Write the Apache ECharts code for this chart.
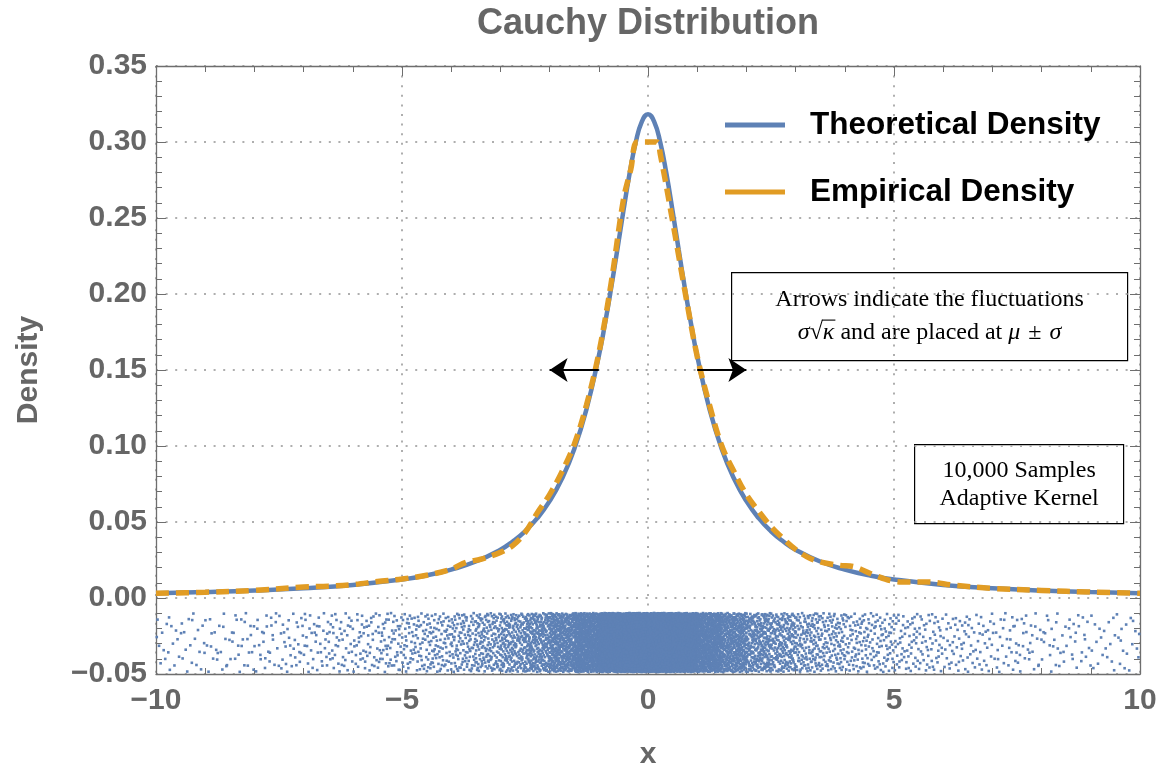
<!DOCTYPE html>
<html>
<head>
<meta charset="utf-8">
<script src="https://cdn.jsdelivr.net/npm/echarts@6/dist/echarts.min.js"></script>
<style>
html,body{margin:0;padding:0;background:#fff;}
#chart{width:1160px;height:773px;}
</style>
</head>
<body>
<div id="chart"></div>
<script>
// ---------- data ----------
const theoryX = [-10,-9,-8,-7,-6,-5,-4.5,-4,-3.5,-3,-2.75,-2.5,-2.25,-2,-1.75,-1.5,-1.25,-1,-0.875,-0.75,-0.625,-0.5,-0.375,-0.25,-0.125,0,
                 0.125,0.25,0.375,0.5,0.625,0.75,0.875,1,1.25,1.5,1.75,2,2.25,2.5,2.75,3,3.5,4,4.5,5,6,7,8,9,10];
const theoryY = [0.0032,0.0039,0.0049,0.0064,0.0086,0.0122,0.0149,0.0187,0.0240,0.0318,0.0372,0.0439,0.0525,0.0637,0.0784,0.0979,0.1242,0.1592,0.1803,0.2037,0.2289,0.2546,0.2791,0.2996,0.3134,0.3183,
                 0.3134,0.2996,0.2791,0.2546,0.2289,0.2037,0.1803,0.1592,0.1242,0.0979,0.0784,0.0637,0.0525,0.0439,0.0372,0.0318,0.0240,0.0187,0.0149,0.0122,0.0086,0.0064,0.0049,0.0039,0.0032];

const empiricalX = [-10,-9,-8,-7,-6.5,-6,-5.5,-5,-4.5,-4,-3.7,-3.4,-3,-2.75,-2.5,-2.25,-2,-1.75,-1.5,-1.25,
                    -1,-0.75,-0.5,-0.35,-0.22,0,0.18,0.25,0.5,0.75,1,1.25,1.5,1.75,2,2.25,2.5,2.75,3,3.3,
                    3.6,3.9,4.2,4.6,5,5.3,5.7,6.2,7,8,9,10];
const empiricalY = [0.0031,0.0038,0.0050,0.0072,0.0078,0.0088,0.0108,0.0125,0.0150,0.0190,0.0235,0.0255,0.0300,0.0345,0.0430,0.0560,0.0680,0.0830,0.1010,0.1270,
                    0.1610,0.2070,0.2620,0.2820,0.3000,0.3000,0.3000,0.2920,0.2480,0.2020,0.1590,0.1270,0.1000,0.0830,0.0680,0.0570,0.0470,0.0390,0.0320,0.0260,
                    0.0230,0.0215,0.0205,0.0150,0.0110,0.0105,0.0105,0.0085,0.0063,0.0050,0.0039,0.0031];

// sample counts per 0.5-wide bin, from x = -10 to x = 10 (estimated from the rug density)
const rugBinStart = -10;
const rugBinWidth = 0.5;
const rugCounts = [17,19,20,24,26,30,35,41,46,57,67,85,105,140,186,266,395,630,1020,1480,
                   1470,1030,625,400,262,190,136,108,82,70,55,48,39,35,29,27,22,21,18,17];
const rugBand = [-0.0487, -0.0099];   // vertical jitter band of the rug

// fluctuation arrows: from mu +/- sigma, length sigma*sqrt(kappa)
const arrowStartX = [-1, 1];
const arrowEndX = [-2, 2];
const arrowLevel = 0.15;

const xMin = -10, xMax = 10, xStep = 5;
const yMin = -0.05, yMax = 0.35, yStep = 0.05;

// ---------- build series data ----------
const zip = (xs, ys) => xs.map((x, i) => [x, ys[i]]);
function halton(i, base) {
  let f = 1, r = 0;
  while (i > 0) { f /= base; r += f * (i % base); i = Math.floor(i / base); }
  return r;
}
const rugPoints = [];
rugCounts.forEach((n, b) => {
  const a = rugBinStart + b * rugBinWidth;
  for (let k = 1; k <= n; k++) {
    // deterministic low-discrepancy placement inside the bin (jitter stand-in)
    const idx = k + b * 157;
    rugPoints.push([a + rugBinWidth * halton(idx, 2), rugBand[0] + (rugBand[1] - rugBand[0]) * halton(idx, 3)]);
  }
});

const BLUE = '#5E81B5', ORANGE = '#E19C24', GRAY = '#666666', FRAME = '#6e6e6e';
const SANS = '"Liberation Sans", Arial, Helvetica, sans-serif';
const SERIF = '"Liberation Serif", "Times New Roman", serif';
const minus = s => String(s).replace('-', '\u2212');

// measure the math line so the square-root bar can sit over kappa
const NOTE_FS = 24;
const SP = '\u2004';
const mctx = document.createElement('canvas').getContext('2d');
function tw(t, italic) { mctx.font = (italic ? 'italic ' : '') + NOTE_FS + 'px ' + SERIF; return mctx.measureText(t).width; }
const mathParts = [['σ', 1], ['√', 0], ['κ', 1], [' and are placed at ', 0], ['μ', 1], [SP + '±' + SP, 0], ['σ', 1]];
const mathW = mathParts.reduce((s, p) => s + tw(p[0], p[1]), 0);
const box1W = 396, box1H = 88;
const kappaX0 = box1W / 2 - mathW / 2 + tw('σ', 1) + tw('√', 0);
const kappaX1 = kappaX0 + tw('κ', 1);

const tickLabel = {fontFamily: SANS, fontWeight: 'bold', fontSize: 30, color: GRAY};
const dotted = {show: true, lineStyle: {color: '#aeaeae', width: 2, type: [2, 7.6]}};
const frameLine = {show: true, onZero: false, lineStyle: {color: FRAME, width: 1.3}};
const majorTick = {show: true, inside: true, length: 10, lineStyle: {color: FRAME, width: 1}};
const minorTick = {show: true, splitNumber: 5, length: 6, lineStyle: {color: FRAME, width: 1}};

const chart = echarts.init(document.getElementById('chart'), null, {renderer: 'canvas'});
chart.setOption({
  animation: false,
  backgroundColor: '#ffffff',
  title: {
    text: 'Cauchy Distribution',
    left: 472, top: 1,
    textStyle: {fontFamily: SANS, fontWeight: 'bold', fontSize: 36, color: GRAY}
  },
  grid: {left: 156, right: 20, top: 66, bottom: 99, containLabel: false, outerBoundsMode: 'none'},
  legend: {
    data: ['Theoretical Density', 'Empirical Density'],
    orient: 'vertical',
    left: 720, top: 103,
    icon: 'rect',
    itemWidth: 60, itemHeight: 5, itemGap: 33,
    textStyle: {fontFamily: SANS, fontWeight: 'bold', fontSize: 31.5, lineHeight: 34, color: '#000', padding: [0, 0, 0, 20]},
    selectedMode: false
  },
  xAxis: [
    {
      type: 'value', min: xMin, max: xMax, interval: xStep, position: 'bottom',
      name: 'x', nameLocation: 'middle', nameGap: 66,
      nameTextStyle: {fontFamily: SANS, fontWeight: 'bold', fontSize: 30, color: GRAY},
      axisLine: frameLine, axisTick: majorTick, minorTick: minorTick,
      axisLabel: Object.assign({margin: 12, formatter: v => minus(v)}, tickLabel),
      splitLine: dotted
    },
    {
      type: 'value', min: xMin, max: xMax, interval: xStep, position: 'top',
      axisLine: frameLine, axisTick: majorTick, minorTick: minorTick,
      axisLabel: {show: false}, splitLine: {show: false}
    }
  ],
  yAxis: [
    {
      type: 'value', min: yMin, max: yMax, interval: yStep, position: 'left',
      name: 'Density', nameLocation: 'middle', nameRotate: 90, nameGap: 112,
      nameTextStyle: {fontFamily: SANS, fontWeight: 'bold', fontSize: 30, color: GRAY},
      axisLine: frameLine, axisTick: majorTick, minorTick: minorTick,
      axisLabel: Object.assign({margin: 9, formatter: v => minus(v.toFixed(2))}, tickLabel),
      splitLine: dotted
    },
    {
      type: 'value', min: yMin, max: yMax, interval: yStep, position: 'right',
      axisLine: frameLine, axisTick: majorTick, minorTick: minorTick,
      axisLabel: {show: false}, splitLine: {show: false}
    }
  ],
  series: [
    {
      name: 'Rug', type: 'scatter', xAxisIndex: 0, yAxisIndex: 0,
      data: rugPoints, symbol: 'rect', symbolSize: 2.6,
      itemStyle: {color: BLUE, opacity: 1},
      progressive: 0, silent: true, z: 1
    },
    {
      name: 'Theoretical Density', type: 'line', xAxisIndex: 0, yAxisIndex: 0,
      data: zip(theoryX, theoryY), symbol: 'none', smooth: 0.5,
      lineStyle: {color: BLUE, width: 4.5}, itemStyle: {color: BLUE}, z: 3
    },
    {
      name: 'Empirical Density', type: 'line', xAxisIndex: 0, yAxisIndex: 0,
      data: zip(empiricalX, empiricalY), symbol: 'none', smooth: 0.35,
      lineStyle: {color: ORANGE, width: 5.5, type: [13, 7]}, itemStyle: {color: ORANGE}, z: 4
    },
    {
      name: 'Fluctuation', type: 'lines', coordinateSystem: 'cartesian2d', xAxisIndex: 0, yAxisIndex: 0,
      data: arrowStartX.map((x0, i) => ({coords: [[x0, arrowLevel], [arrowEndX[i], arrowLevel]]})),
      symbol: ['none', 'arrow'], symbolSize: 18,
      lineStyle: {color: '#000', width: 2, opacity: 1, curveness: 0},
      silent: true, z: 5
    }
  ],
  graphic: [
    {
      type: 'group', left: 731, top: 272, z: 10,
      children: [
        {type: 'rect', shape: {x: 0, y: 0, width: box1W, height: box1H},
         style: {fill: '#fff', stroke: '#000', lineWidth: 1.2}},
        {type: 'text', x: box1W / 2, y: 27,
         style: {text: 'Arrows indicate the fluctuations', fontFamily: SERIF, fontSize: NOTE_FS,
                 fill: '#000', align: 'center', verticalAlign: 'middle'}},
        {type: 'text', x: box1W / 2, y: 60,
         style: {text: '{i|σ}√{i|κ} and are placed at {i|μ}' + SP + '±' + SP + '{i|σ}', fontFamily: SERIF, fontSize: NOTE_FS,
                 fill: '#000', align: 'center', verticalAlign: 'middle',
                 rich: {i: {fontStyle: 'italic', fontFamily: SERIF, fontSize: NOTE_FS, fill: '#000'}}}},
        {type: 'line', shape: {x1: kappaX0 - 1, y1: 47.5, x2: kappaX1 + 1, y2: 47.5},
         style: {stroke: '#000', lineWidth: 1.1}}
      ]
    },
    {
      type: 'group', left: 914, top: 444, z: 10,
      children: [
        {type: 'rect', shape: {x: 0, y: 0, width: 209, height: 79},
         style: {fill: '#fff', stroke: '#000', lineWidth: 1.2}},
        {type: 'text', x: 104.5, y: 26,
         style: {text: '10,000 Samples', fontFamily: SERIF, fontSize: NOTE_FS,
                 fill: '#000', align: 'center', verticalAlign: 'middle'}},
        {type: 'text', x: 104.5, y: 54,
         style: {text: 'Adaptive Kernel', fontFamily: SERIF, fontSize: NOTE_FS,
                 fill: '#000', align: 'center', verticalAlign: 'middle'}}
      ]
    }
  ]
});
</script>
</body>
</html>
